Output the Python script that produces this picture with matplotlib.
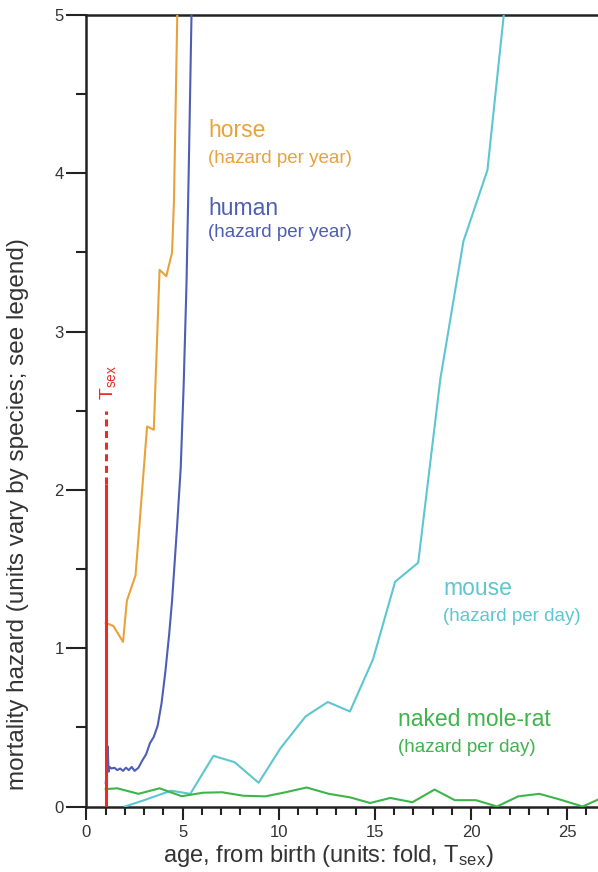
import matplotlib
matplotlib.use("Agg")
import matplotlib.pyplot as plt
from matplotlib.ticker import MultipleLocator

plt.rcParams['font.family'] = ['Liberation Sans', 'DejaVu Sans']
plt.rcParams['mathtext.default'] = 'regular'

# ---- data ----
horse_age = [1.0, 1.4, 1.9, 2.1, 2.55, 3.15, 3.5, 3.8, 4.15, 4.45, 4.55, 4.72]
horse_haz = [1.16, 1.14, 1.04, 1.30, 1.46, 2.40, 2.38, 3.39, 3.35, 3.50, 3.83, 5.0]

human_age = [1.0, 1.05, 1.1, 1.15, 1.2, 1.3, 1.45, 1.6, 1.75, 1.9, 2.05, 2.2, 2.35,
             2.5, 2.7, 2.9, 3.1, 3.3, 3.5, 3.7, 3.9, 4.1, 4.3, 4.45, 4.7, 4.9,
             5.05, 5.2, 5.32, 5.46]
human_haz = [0.15, 0.20, 0.38, 0.22, 0.25, 0.24, 0.245, 0.23, 0.24, 0.225, 0.245, 0.23,
             0.25, 0.225, 0.245, 0.29, 0.33, 0.40, 0.44, 0.51, 0.65, 0.85, 1.09, 1.30,
             1.75, 2.14, 2.65, 3.3, 4.04, 5.0]

mouse_age = [2.0, 3.0, 4.4, 5.4, 6.6, 7.7, 8.95, 10.1, 11.4, 12.55, 13.7, 14.9,
             16.05, 17.25, 18.4, 19.6, 20.85, 21.7]
mouse_haz = [0.0, 0.04, 0.10, 0.08, 0.32, 0.28, 0.15, 0.37, 0.57, 0.66, 0.60, 0.93,
             1.42, 1.54, 2.70, 3.57, 4.02, 5.0]

nmr_age = [1.0, 1.6, 2.7, 3.8, 4.95, 6.05, 7.05, 8.15, 9.3, 10.35, 11.45, 12.6,
           13.7, 14.75, 15.8, 16.95, 18.1, 19.15, 20.25, 21.35, 22.45, 23.55,
           24.65, 25.8, 26.9]
nmr_haz = [0.11, 0.115, 0.08, 0.115, 0.065, 0.087, 0.09, 0.068, 0.064, 0.09, 0.12,
           0.08, 0.058, 0.022, 0.054, 0.027, 0.107, 0.04, 0.04, 0.0, 0.064, 0.08,
           0.043, 0.0, 0.06]

tsex_age = 1.0
tsex_solid_top = 2.04
tsex_dash_top = 2.50

x_major = [0, 5, 10, 15, 20, 25]
y_major = [0, 1, 2, 3, 4, 5]

C_HORSE = '#E9A23B'
C_HUMAN = '#4D5EB4'
C_MOUSE = '#5DC6D0'
C_NMR = '#3DB54A'
C_RED = '#EE2A24'
C_AX = '#222222'

W, H = 598, 872
fig = plt.figure(figsize=(W / 100, H / 100), dpi=100)
x0, x1 = 86.5, 598
ytop, ybot = 15, 806.5
ax = fig.add_axes([x0 / W, (H - ybot) / H, (x1 - x0) / W, (ybot - ytop) / H])
ax.set_xlim(0, 26.6)
ax.set_ylim(0, 5)

lw = 1.5
ax.plot(horse_age, horse_haz, color=C_HORSE, lw=lw, zorder=3)
ax.plot(human_age, human_haz, color=C_HUMAN, lw=lw, zorder=3)
ax.plot(mouse_age, mouse_haz, color=C_MOUSE, lw=lw, zorder=3)
ax.plot(nmr_age, nmr_haz, color=C_NMR, lw=lw, zorder=3)

# T_sex marker
ax.plot([tsex_age, tsex_age], [0, tsex_solid_top], color=C_RED, lw=2.2, zorder=4,
        solid_capstyle='butt')
ax.plot([tsex_age, tsex_age], [tsex_solid_top, tsex_dash_top], color=C_RED, lw=2.2,
        dashes=(2.3, 1.5), zorder=4)
ax.text(1.14, 2.57, r'T$_{sex}$', color=C_RED, fontsize=14, rotation=90,
        ha='center', va='bottom')

# species labels
big, small = 16.5, 13.5
ax.text(6.33, 4.232, 'horse', color=C_HORSE, fontsize=big, va='baseline')
ax.text(6.33, 4.066, '(hazard per year)', color=C_HORSE, fontsize=small, va='baseline')
ax.text(6.33, 3.739, 'human', color=C_HUMAN, fontsize=big, va='baseline')
ax.text(6.33, 3.600, '(hazard per year)', color=C_HUMAN, fontsize=small, va='baseline')
ax.text(18.55, 1.337, 'mouse', color=C_MOUSE, fontsize=big, va='baseline')
ax.text(18.55, 1.172, '(hazard per day)', color=C_MOUSE, fontsize=small, va='baseline')
ax.text(16.21, 0.511, 'naked mole-rat', color=C_NMR, fontsize=big, va='baseline')
ax.text(16.21, 0.346, '(hazard per day)', color=C_NMR, fontsize=small, va='baseline')

# axes styling
for s in ['left', 'bottom', 'top']:
    ax.spines[s].set_color(C_AX)
    ax.spines[s].set_linewidth(1.8)
ax.spines['right'].set_visible(False)

ax.set_xticks(x_major)
ax.set_yticks(y_major)
ax.xaxis.set_minor_locator(MultipleLocator(1))
ax.yaxis.set_minor_locator(MultipleLocator(0.5))
ax.tick_params(axis='y', which='major', direction='out', length=14.4, width=1.5,
               color=C_AX, labelsize=12, pad=2, labelcolor='#333333')
ax.tick_params(axis='y', which='minor', direction='out', length=7.2, width=1.5,
               color=C_AX)
ax.tick_params(axis='x', which='major', direction='out', length=9.4, width=1.5,
               color=C_AX, labelsize=12, pad=4, labelcolor='#333333')
ax.tick_params(axis='x', which='minor', direction='out', length=5.8, width=1.5,
               color=C_AX)

fig.text(328 / W, 1 - 856 / H, r'age, from birth (units: fold, T$_{sex}$)',
         fontsize=17, ha='center', va='center', color='#333333')
fig.text(18 / W, 1 - 514 / H, 'mortality hazard (units vary by species; see legend)',
         fontsize=17.5, rotation=90, ha='center', va='center', color='#333333')

fig.savefig('out.png', dpi=100, facecolor='white')
